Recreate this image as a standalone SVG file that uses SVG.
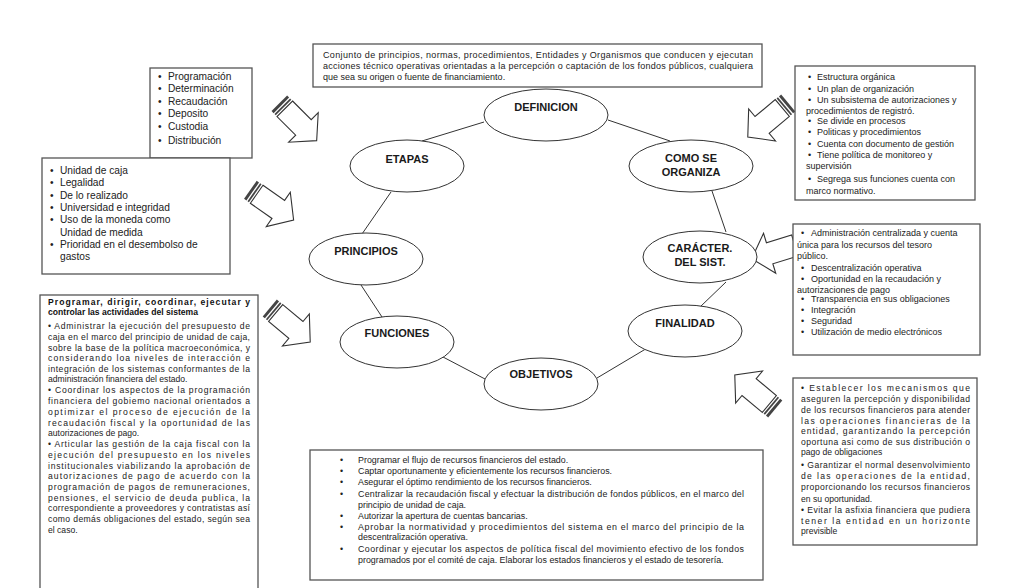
<svg xmlns="http://www.w3.org/2000/svg" xmlns:xlink="http://www.w3.org/1999/xlink" width="1024" height="588" viewBox="0 0 1024 588">
<style>
.box{fill:#fff;stroke:#555;stroke-width:1.3}
.ell{fill:#fff;stroke:#333;stroke-width:1}
.con{stroke:#333;stroke-width:1;fill:none}
.lbl{font-family:"Liberation Sans",Arial,sans-serif;font-weight:bold;font-size:11px;fill:#1a1a1a;text-anchor:middle}
.t{font-family:"Liberation Sans",Arial,sans-serif;font-size:9px;fill:#222}
.t10{font-family:"Liberation Sans",Arial,sans-serif;font-size:10.2px;fill:#222}
.t85{font-family:"Liberation Sans",Arial,sans-serif;font-size:8.6px;fill:#222}
.t89{font-family:"Liberation Sans",Arial,sans-serif;font-size:8.9px;fill:#222}
.b85{font-family:"Liberation Sans",Arial,sans-serif;font-size:8.6px;font-weight:bold;fill:#111}
</style>
<defs>
<g id="arr">
<rect x="-24" y="-10" width="2.6" height="20" fill="#444"/>
<rect x="-20.2" y="-10" width="1.6" height="20" fill="#444"/>
<polygon points="-17,-10 7,-10 7,-19 24,0 7,19 7,10 -17,10" fill="#fff" stroke="#333" stroke-width="1"/>
</g>
</defs>
<rect width="1024" height="588" fill="#fff"/>

<g id="connectors">
<line class="con" x1="484" y1="122" x2="422" y2="141"/>
<line class="con" x1="608" y1="120" x2="670" y2="141"/>
<line class="con" x1="391" y1="192" x2="362" y2="234"/>
<line class="con" x1="712" y1="191" x2="726" y2="232"/>
<line class="con" x1="361" y1="285" x2="382" y2="317"/>
<line class="con" x1="726" y1="282" x2="700" y2="307"/>
<line class="con" x1="443" y1="357" x2="485" y2="379"/>
<line class="con" x1="597" y1="378" x2="649" y2="347"/>
<use xlink:href="#arr" href="#arr" transform="translate(298,122) rotate(45) scale(1.1)"/>
<use xlink:href="#arr" href="#arr" transform="translate(272,205) rotate(35) scale(1.1)"/>
<use xlink:href="#arr" href="#arr" transform="translate(290,325) rotate(40) scale(1.1)"/>
<use xlink:href="#arr" href="#arr" transform="translate(768,120) rotate(140) scale(1.1)"/>
<use xlink:href="#arr" href="#arr" transform="translate(777,251) rotate(163) scale(1.1)"/>
<use xlink:href="#arr" href="#arr" transform="translate(755,392) rotate(220) scale(1.1)"/>
</g>

<g id="definicion">
<ellipse class="ell" cx="546" cy="115" rx="62" ry="26"/>
<text class="lbl" x="546" y="111">DEFINICION</text>
</g>
<g id="etapas">
<ellipse class="ell" cx="407" cy="166" rx="57" ry="26"/>
<text class="lbl" x="407" y="163">ETAPAS</text>
</g>
<g id="como-se-organiza">
<ellipse class="ell" cx="691" cy="166" rx="62" ry="26"/>
<text class="lbl" x="691" y="162">COMO SE</text>
<text class="lbl" x="691" y="176">ORGANIZA</text>
</g>
<g id="principios">
<ellipse class="ell" cx="366" cy="259" rx="57" ry="26"/>
<text class="lbl" x="366" y="255">PRINCIPIOS</text>
</g>
<g id="caracter">
<ellipse class="ell" cx="700" cy="257" rx="57" ry="26"/>
<text class="lbl" x="700" y="252">CARÁCTER.</text>
<text class="lbl" x="700" y="266">DEL SIST.</text>
</g>
<g id="funciones">
<ellipse class="ell" cx="397" cy="342" rx="57" ry="26"/>
<text class="lbl" x="397" y="337">FUNCIONES</text>
</g>
<g id="finalidad">
<ellipse class="ell" cx="685" cy="331" rx="57" ry="26"/>
<text class="lbl" x="685" y="327">FINALIDAD</text>
</g>
<g id="objetivos">
<ellipse class="ell" cx="541" cy="384" rx="57" ry="26"/>
<text class="lbl" x="541" y="378">OBJETIVOS</text>
</g>

<g id="box-definicion">
<rect class="box" x="313" y="44" width="449" height="43"/>
<text class="t" x="323" y="58" textLength="430" lengthAdjust="spacing">Conjunto de principios, normas, procedimientos, Entidades y Organismos que conducen y ejecutan</text>
<text class="t" x="323" y="69" textLength="430" lengthAdjust="spacing">acciones técnico operativas orientadas a la percepción o captación de los fondos públicos, cualquiera</text>
<text class="t" x="323" y="80">que sea su origen o fuente de financiamiento.</text>
</g>

<g id="box-etapas">
<rect class="box" x="150" y="68" width="102" height="90"/>
<g class="t10">
<text x="158" y="80">•</text><text x="168" y="80">Programación</text>
<text x="158" y="92">•</text><text x="168" y="92">Determinación</text>
<text x="158" y="105">•</text><text x="168" y="105">Recaudación</text>
<text x="158" y="117">•</text><text x="168" y="117">Deposito</text>
<text x="158" y="130">•</text><text x="168" y="130">Custodia</text>
<text x="158" y="144">•</text><text x="168" y="144">Distribución</text>
</g>
</g>

<g id="box-principios">
<rect class="box" x="42" y="158" width="188" height="116"/>
<g class="t10">
<text x="50" y="174">•</text><text x="60" y="174">Unidad de caja</text>
<text x="50" y="186">•</text><text x="60" y="186">Legalidad</text>
<text x="50" y="199">•</text><text x="60" y="199">De lo realizado</text>
<text x="50" y="211">•</text><text x="60" y="211">Universidad e integridad</text>
<text x="50" y="223">•</text><text x="60" y="223">Uso de la moneda como</text>
<text x="60" y="236">Unidad de medida</text>
<text x="50" y="248">•</text><text x="60" y="248">Prioridad en el desembolso de</text>
<text x="60" y="260">gastos</text>
</g>
</g>

<g id="box-funciones">
<rect class="box" x="40" y="295" width="218" height="300"/>
<text class="b85" x="48" y="305" textLength="202" lengthAdjust="spacing">Programar, dirigir, coordinar, ejecutar y</text>
<text class="b85" x="48" y="315">controlar las actividades del sistema</text>
<g class="t85">
<text x="48" y="329" textLength="202" lengthAdjust="spacing">•  Administrar la ejecución del presupuesto de</text>
<text x="48" y="340" textLength="202" lengthAdjust="spacing">caja en el marco del principio de unidad de caja,</text>
<text x="48" y="351" textLength="202" lengthAdjust="spacing">sobre la base de la política macroeconómica, y</text>
<text x="48" y="361" textLength="202" lengthAdjust="spacing">considerando loa niveles de interacción e</text>
<text x="48" y="372" textLength="202" lengthAdjust="spacing">integración de los sistemas conformantes de la</text>
<text x="48" y="382">administración financiera del estado.</text>
<text x="48" y="393" textLength="202" lengthAdjust="spacing">•  Coordinar los aspectos de la programación</text>
<text x="48" y="404" textLength="202" lengthAdjust="spacing">financiera del gobiemo nacional orientados a</text>
<text x="48" y="415" textLength="202" lengthAdjust="spacing">optimizar el proceso de ejecución de la</text>
<text x="48" y="426" textLength="202" lengthAdjust="spacing">recaudación fiscal y la oportunidad de las</text>
<text x="48" y="436">autorizaciones de pago.</text>
<text x="48" y="447" textLength="202" lengthAdjust="spacing">•  Articular las gestión de la caja fiscal con la</text>
<text x="48" y="458" textLength="202" lengthAdjust="spacing">ejecución del presupuesto en los niveles</text>
<text x="48" y="469" textLength="202" lengthAdjust="spacing">institucionales viabilizando la aprobación de</text>
<text x="48" y="479" textLength="202" lengthAdjust="spacing">autorizaciones de pago de acuerdo con la</text>
<text x="48" y="490" textLength="202" lengthAdjust="spacing">programación de pagos de remuneraciones,</text>
<text x="48" y="501" textLength="202" lengthAdjust="spacing">pensiones, el servicio de deuda publica, la</text>
<text x="48" y="511" textLength="202" lengthAdjust="spacing">correspondiente a proveedores y contratistas así</text>
<text x="48" y="522" textLength="202" lengthAdjust="spacing">como demás obligaciones del estado, según sea</text>
<text x="48" y="533">el caso.</text>
</g>
</g>

<g id="box-organiza">
<rect class="box" x="795" y="66" width="180" height="134"/>
<g class="t">
<text x="808" y="80">•</text><text x="817" y="80">Estructura orgánica</text>
<text x="808" y="92">•</text><text x="817" y="92">Un plan de organización</text>
<text x="808" y="103">•</text><text x="817" y="103">Un subsistema de autorizaciones y</text>
<text x="806" y="114">procedimientos de registró.</text>
<text x="808" y="124">•</text><text x="817" y="124">Se divide en procesos</text>
<text x="808" y="135">•</text><text x="817" y="135">Politicas y procedimientos</text>
<text x="808" y="147">•</text><text x="817" y="147">Cuenta con documento de gestión</text>
<text x="808" y="158">•</text><text x="817" y="158">Tiene política de monitoreo y</text>
<text x="806" y="169">supervisión</text>
<text x="808" y="182">•</text><text x="817" y="182">Segrega sus funciones cuenta con</text>
<text x="806" y="194">marco normativo.</text>
</g>
</g>

<g id="box-caracter">
<rect class="box" x="793" y="224" width="187" height="131"/>
<g class="t">
<text x="801" y="236">•</text><text x="811" y="236">Administración centralizada y cuenta</text>
<text x="797" y="248">única para los recursos del tesoro</text>
<text x="797" y="259">público.</text>
<text x="801" y="271">•</text><text x="811" y="271">Descentralización operativa</text>
<text x="801" y="282">•</text><text x="811" y="282">Oportunidad en la recaudación y</text>
<text x="797" y="293">autorizaciones de pago</text>
<text x="801" y="302">•</text><text x="811" y="302">Transparencia en sus obligaciones</text>
<text x="801" y="313">•</text><text x="811" y="313">Integración</text>
<text x="801" y="324">•</text><text x="811" y="324">Seguridad</text>
<text x="801" y="335">•</text><text x="811" y="335">Utilización de medio electrónicos</text>
</g>
</g>

<g id="box-finalidad">
<rect class="box" x="793" y="378" width="184" height="167"/>
<g class="t85">
<text x="801" y="391" textLength="169" lengthAdjust="spacing">•  Establecer los mecanismos que</text>
<text x="801" y="402" textLength="169" lengthAdjust="spacing">aseguren la percepción y disponibilidad</text>
<text x="801" y="413" textLength="169" lengthAdjust="spacing">de los recursos financieros para atender</text>
<text x="801" y="424" textLength="169" lengthAdjust="spacing">las operaciones financieras de la</text>
<text x="801" y="434" textLength="169" lengthAdjust="spacing">entidad, garantizando la percepción</text>
<text x="801" y="445" textLength="169" lengthAdjust="spacing">oportuna asi como de sus distribución o</text>
<text x="801" y="455">pago de obligaciones</text>
<text x="801" y="468" textLength="169" lengthAdjust="spacing">•  Garantizar el normal desenvolvimiento</text>
<text x="801" y="479" textLength="169" lengthAdjust="spacing">de las operaciones de la entidad,</text>
<text x="801" y="490" textLength="169" lengthAdjust="spacing">proporcionando los recursos financieros</text>
<text x="801" y="502">en su oportunidad.</text>
<text x="801" y="513" textLength="169" lengthAdjust="spacing">•  Evitar la asfixia financiera que pudiera</text>
<text x="801" y="524" textLength="169" lengthAdjust="spacing">tener la entidad en un horizonte</text>
<text x="801" y="534">previsible</text>
</g>
</g>

<g id="box-objetivos">
<rect class="box" x="310" y="450" width="453" height="130"/>
<g class="t89">
<text x="340" y="463">•</text><text x="358" y="463">Programar el flujo de recursos financieros del estado.</text>
<text x="340" y="474">•</text><text x="358" y="474">Captar oportunamente y eficientemente los recursos financieros.</text>
<text x="340" y="485">•</text><text x="358" y="485">Asegurar el óptimo rendimiento de los recursos financieros.</text>
<text x="340" y="497">•</text><text x="358" y="497" textLength="386" lengthAdjust="spacing">Centralizar la recaudación fiscal y efectuar la distribución de fondos públicos, en el marco del</text>
<text x="358" y="508">principio de unidad de caja.</text>
<text x="340" y="519">•</text><text x="358" y="519">Autorizar la apertura de cuentas bancarias.</text>
<text x="340" y="530">•</text><text x="358" y="530" textLength="386" lengthAdjust="spacing">Aprobar la normatividad y procedimientos del sistema en el marco del principio de la</text>
<text x="358" y="540">descentralización operativa.</text>
<text x="340" y="552">•</text><text x="358" y="552" textLength="386" lengthAdjust="spacing">Coordinar y ejecutar los aspectos de política fiscal del movimiento efectivo de los fondos</text>
<text x="358" y="563">programados por el comité de caja. Elaborar los estados financieros y el estado de tesorería.</text>
</g>
</g>
</svg>
